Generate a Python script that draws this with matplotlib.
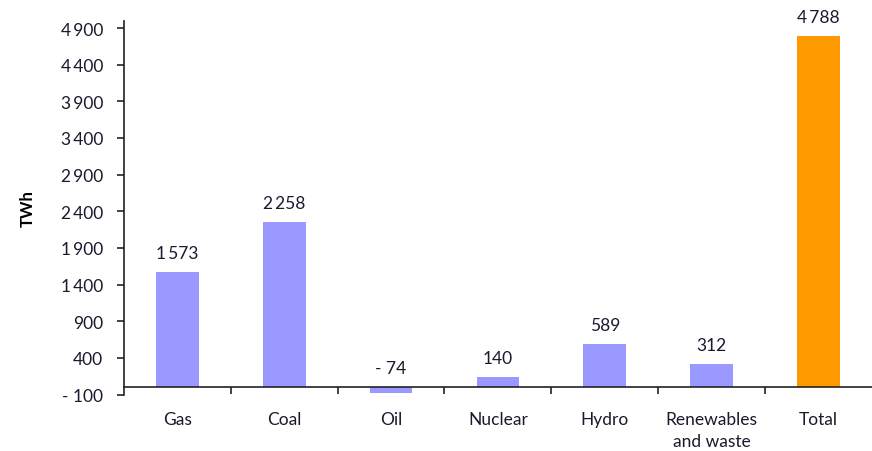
import matplotlib.pyplot as plt
import numpy as np

# Electricity generation change by source (TWh)
categories = ['Gas', 'Coal', 'Oil', 'Nuclear', 'Hydro', 'Renewables\nand waste', 'Total']
values = [1573, 2258, -74, 140, 589, 312, 4788]
yticks = list(range(-100, 5000, 500))


def fmt(v):
    s = f'{abs(v):,}'.replace(',', '\u2009')
    return ('- ' if v < 0 else '') + s


plt.rcParams['font.family'] = ['Lato', 'DejaVu Sans']
FS = 12.5
TXT = '#1a1a2e'

fig = plt.figure(figsize=(8.72, 4.52), dpi=100)
ax = fig.add_axes([0.142, 0.125, 0.858, 0.827])

x = np.arange(len(categories))
colors = ['#9999FF'] * (len(categories) - 1) + ['#FF9900']
ax.bar(x, values, width=0.4, color=colors, zorder=2)

ax.set_xlim(-0.5, len(categories) - 0.5)
ax.set_ylim(-100, 5000)

ax.spines['top'].set_visible(False)
ax.spines['right'].set_visible(False)
ax.spines['bottom'].set_position(('data', 0))
ax.spines['left'].set_bounds(-100, 5000)
for sp in ('left', 'bottom'):
    ax.spines[sp].set_linewidth(1.2)
    ax.spines[sp].set_color('#222222')

ax.set_yticks(yticks)
ax.set_yticklabels([fmt(t) for t in yticks], fontsize=FS, color=TXT)
ax.tick_params(axis='y', length=5, width=1.2, pad=10, color='#222222')

ax.set_xticks(x)
ax.set_xticklabels(categories, fontsize=FS, color=TXT, linespacing=1.5)
ax.tick_params(axis='x', length=0, pad=17)
ax.set_xticks(np.arange(len(categories) - 1) + 0.5, minor=True)
ax.tick_params(axis='x', which='minor', length=5, width=1.2, color='#222222', direction='out')

for xi, v in zip(x, values):
    ax.annotate(fmt(v), (xi, max(v, 0)), xytext=(0, 8), textcoords='offset points',
                ha='center', va='bottom', fontsize=FS, color=TXT)

ax.set_ylabel('TWh', fontsize=FS - 0.5, fontweight='bold', labelpad=18)

fig.savefig('out.png', dpi=100)
